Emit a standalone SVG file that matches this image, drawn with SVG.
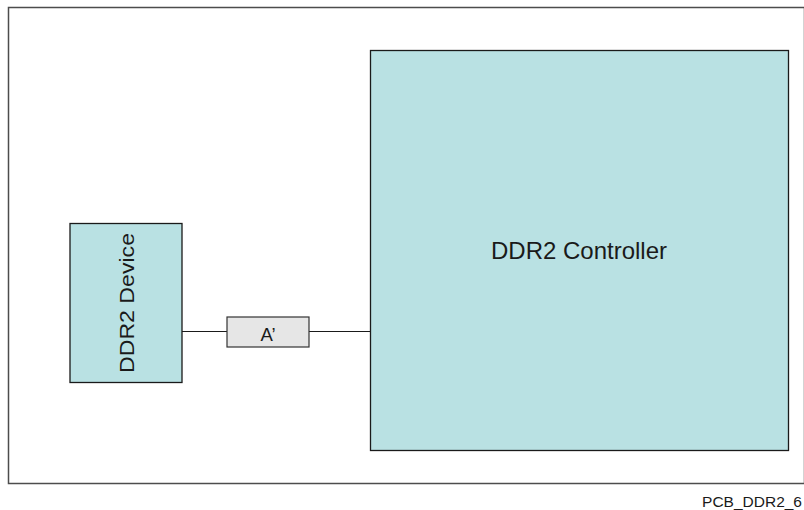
<svg xmlns="http://www.w3.org/2000/svg" width="804" height="510" viewBox="0 0 804 510">
<style>
.frame{fill:#fff;stroke:#4d4d4d;stroke-width:1.5}
.blk{fill:#b9e1e3;stroke:#1a1a1a;stroke-width:1.3}
.res{fill:#e6e6e6;stroke:#333;stroke-width:1.2}
.wire{stroke:#1a1a1a;stroke-width:1.2;fill:none}
.t{font-family:"Liberation Sans",Arial,sans-serif;fill:#1a1a1a}
</style>
<rect width="804" height="510" fill="#fff"/>
<rect class="frame" x="8.5" y="7.5" width="796" height="476"/>
<g id="controller">
<rect class="blk" x="370.5" y="50.5" width="418" height="400"/>
<text class="t" x="579" y="259" font-size="24" text-anchor="middle">DDR2 Controller</text>
</g>
<g id="device">
<rect class="blk" x="70" y="223.5" width="112" height="159"/>
<text class="t" transform="translate(133.5,303) rotate(-90)" font-size="19.5" text-anchor="middle" textLength="140" lengthAdjust="spacingAndGlyphs">DDR2 Device</text>
</g>
<g id="connectors">
<line class="wire" x1="182" y1="331.5" x2="227" y2="331.5"/>
<line class="wire" x1="309" y1="331.5" x2="370.5" y2="331.5"/>
</g>
<g id="resistor">
<rect class="res" x="227" y="317" width="82" height="30"/>
<text class="t" x="268" y="341" font-size="18.5" text-anchor="middle">A’</text>
</g>
<text class="t" x="802" y="507" font-size="15.5" text-anchor="end">PCB_DDR2_6</text>
</svg>
